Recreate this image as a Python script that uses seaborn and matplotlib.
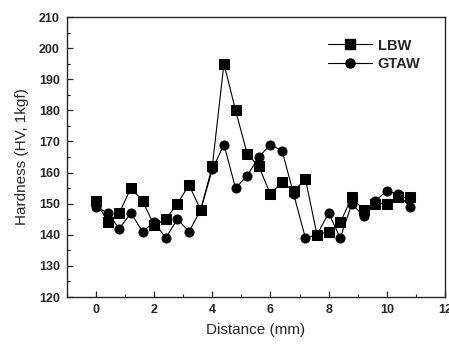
import numpy as np
import pandas as pd
import seaborn as sns
import matplotlib.pyplot as plt
from matplotlib.ticker import MultipleLocator

# Hardness profile across the weld
distance = [0.0, 0.4, 0.8, 1.2, 1.6, 2.0, 2.4, 2.8, 3.2, 3.6, 4.0, 4.4, 4.8, 5.2,
            5.6, 6.0, 6.4, 6.8, 7.2, 7.6, 8.0, 8.4, 8.8, 9.2, 9.6, 10.0, 10.4, 10.8]
lbw = [151, 144, 147, 155, 151, 143, 145, 150, 156, 148, 162, 195, 180, 166,
       162, 153, 157, 154, 158, 140, 141, 144, 152, 148, 150, 150, 152, 152]
gtaw = [149, 147, 142, 147, 141, 144, 139, 145, 141, 148, 161, 169, 155, 159,
        165, 169, 167, 153, 139, 140, 147, 139, 150, 146, 151, 154, 153, 149]

df = pd.concat([
    pd.DataFrame({'Distance': distance, 'Hardness': lbw, 'Weld': 'LBW'}),
    pd.DataFrame({'Distance': distance, 'Hardness': gtaw, 'Weld': 'GTAW'}),
], ignore_index=True)

sns.set_style('ticks')
plt.rcParams['font.family'] = ['Liberation Sans', 'DejaVu Sans']

fig = plt.figure(figsize=(4.49, 3.47), dpi=100)
ax = fig.add_axes([0.149, 0.144, 0.842, 0.807])

sns.lineplot(data=df, x='Distance', y='Hardness', hue='Weld', style='Weld',
             markers={'LBW': 's', 'GTAW': 'o'}, dashes=False,
             palette={'LBW': 'black', 'GTAW': 'black'},
             markersize=6.5, markeredgecolor='black', linewidth=0.8,
             legend=False, ax=ax)

# legend drawn from proxies so both handles are black with markers
h1, = ax.plot([], [], color='black', marker='s', markersize=6.5, linewidth=0.8)
h2, = ax.plot([], [], color='black', marker='o', markersize=6.5, linewidth=0.8)
ax.legend([h1, h2], ['LBW', 'GTAW'], loc='upper right', frameon=False,
          bbox_to_anchor=(0.97, 0.97), handlelength=3.0, handletextpad=0.4,
          labelspacing=0.3, prop={'weight': 'bold', 'size': 10.5})

ax.set_xlim(-1, 12)
ax.set_ylim(120, 210)
ax.xaxis.set_major_locator(MultipleLocator(2))
ax.xaxis.set_minor_locator(MultipleLocator(1))
ax.yaxis.set_major_locator(MultipleLocator(10))
ax.yaxis.set_minor_locator(MultipleLocator(5))
ax.tick_params(which='both', direction='in', top=False, right=False)
ax.tick_params(which='major', length=4, width=0.9, pad=5)
ax.tick_params(which='minor', length=2.5, width=0.8)
for lab in ax.get_xticklabels() + ax.get_yticklabels():
    lab.set_fontweight('bold')
    lab.set_fontsize(9)
for sp in ax.spines.values():
    sp.set_linewidth(1.0)

ax.set_xlabel('Distance (mm)', fontsize=11, labelpad=5)
ax.set_ylabel('Hardness (HV, 1kgf)', fontsize=11, labelpad=7)

fig.savefig('out.png', dpi=100)
